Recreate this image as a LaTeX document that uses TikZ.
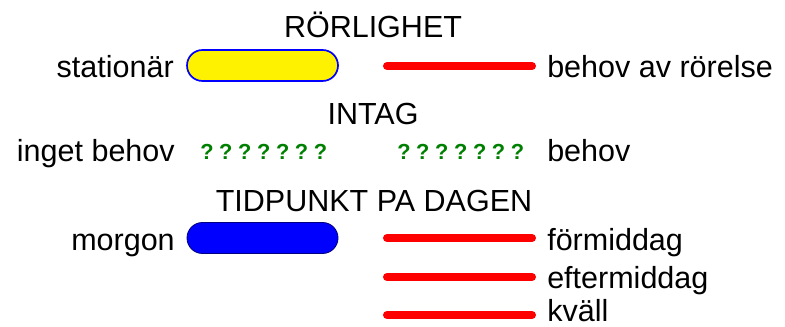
\documentclass[tikz,border=0pt]{standalone}
\usepackage{fontspec}
\setmainfont{Liberation Sans}
\usepackage{xcolor}
\usepackage{tikz}
\usetikzlibrary{positioning}

\definecolor{darkgreen}{RGB}{0,128,0}
\definecolor{darkblue}{RGB}{0,0,128}

\newcommand{\qrow}{?\hspace{4pt}?\hspace{4pt}?\hspace{4pt}?\hspace{4pt}?\hspace{4pt}?\hspace{4pt}?}

\begin{document}
\begin{tikzpicture}[
          every node/.style={inner sep=0pt, font=\fontsize{21.7}{25}\selectfont},
          pill/.style={rounded corners=0.3875cm, minimum width=3.775cm, minimum height=0.775cm},
          redbar/.style={red, line width=0.2cm, line cap=round},
          qmarks/.style={text=darkgreen, font=\fontsize{15.5}{18}\selectfont\bfseries}
        ]
          \useasboundingbox (0,0) rectangle (19.625,-8.175);

          % RÖRLIGHET
          \node[anchor=base] (rorlighet) at (9.325,-0.95) {RÖRLIGHET};
          \node[anchor=base east] (stationar) at (4.35,-1.95) {stationär};
          \node[pill, draw=blue, fill=yellow, line width=1.2pt] (pillA) at (6.5625,-1.6375) {};
          \coordinate (barAa) at (9.675,-1.65);
          \coordinate (barAb) at (13.3,-1.65);
          \draw[redbar] (barAa) -- (barAb);
          \node[anchor=base west] (rorelse) at (13.675,-1.95) {behov av rörelse};

          % INTAG
          \node[anchor=base] (intag) at (9.325,-3.125) {INTAG};
          \node[anchor=base east] (inget) at (4.375,-4.05) {inget behov};
          \node[qmarks, anchor=base west] (qA) at (5.0,-4.0) {\qrow};
          \node[qmarks, anchor=base west] (qB) at (9.925,-4.0) {\qrow};
          \node[anchor=base west] (behov) at (13.675,-4.05) {behov};

          % TIDPUNKT PA DAGEN
          \node[anchor=base] (tidpunkt) at (9.35,-5.3) {TIDPUNKT PA DAGEN};
          \node[anchor=base east] (morgon) at (4.375,-6.25) {morgon};
          \node[pill, draw=darkblue, fill=blue, line width=0.6pt] (pillB) at (6.5625,-5.95) {};
          \foreach \y/\n in {-5.95/B, -6.925/C, -7.875/D} {
            \coordinate (bar\n a) at (9.675,\y);
            \coordinate (bar\n b) at (13.3,\y);
            \draw[redbar] (bar\n a) -- (bar\n b);
          }
          \node[anchor=base west] (formiddag) at (13.675,-6.25) {förmiddag};
          \node[anchor=base west] (eftermiddag) at (13.675,-7.2) {eftermiddag};
          \node[anchor=base west] (kvall) at (13.675,-8.03) {kväll};
        \end{tikzpicture}
\end{document}
